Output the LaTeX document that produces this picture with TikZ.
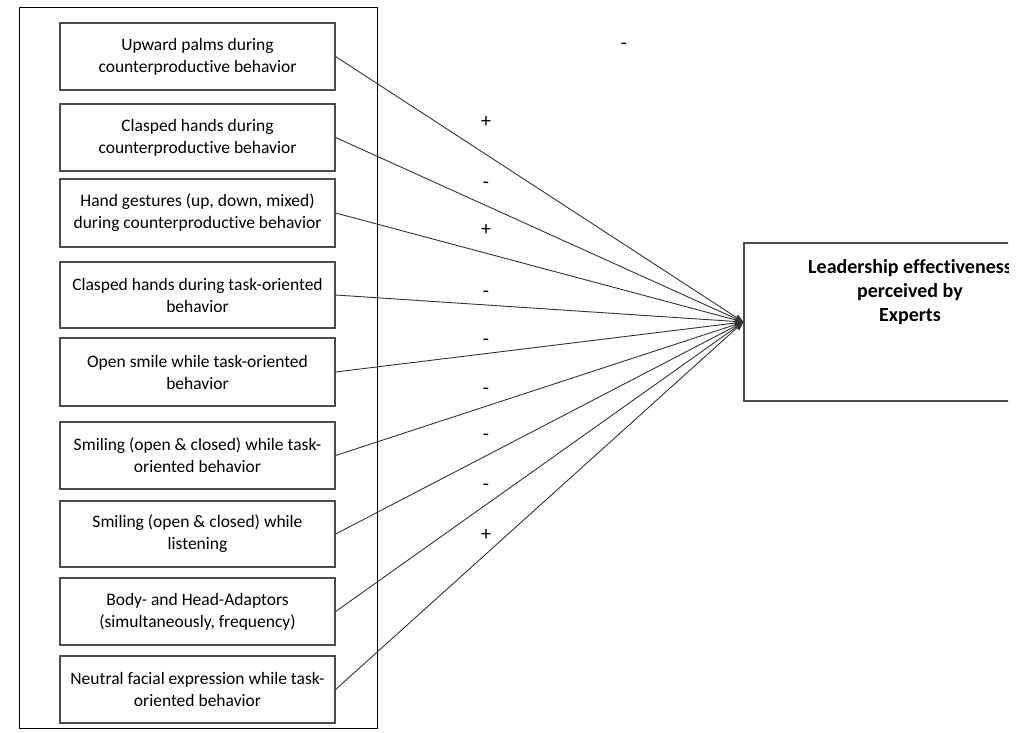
\documentclass[tikz,border=0pt]{standalone}
\usepackage{fontspec}
\setmainfont{Carlito}[Ligatures=NoCommon]
\usetikzlibrary{arrows.meta}
\begin{document}
\begin{tikzpicture}[x=1pt,y=-1pt,
  lbox/.style={draw=black!70,line width=1.2pt,minimum width=275pt,inner sep=0pt,
    align=center,font=\fontsize{17.5}{22}\selectfont},
  conn/.style={draw=black!80,line width=0.9pt,-{Stealth[length=9pt,width=7pt]}},
  sign/.style={font=\fontsize{20}{22}\selectfont,inner sep=0pt}]
\useasboundingbox (0,0) rectangle (1034,732);
\begin{scope}
\clip (0,0) rectangle (1008,732);
\node[draw=black,line width=0.9pt,minimum width=358pt,minimum height=721pt,inner sep=0pt] (outer) at (198,367.5) {};
\node[lbox,minimum height=67pt] (b1) at (197.5,56.5) {Upward palms during\\counterproductive behavior};
\node[lbox,minimum height=67pt] (b2) at (197.5,137.5) {Clasped hands during\\counterproductive behavior};
\node[lbox,minimum height=68pt] (b3) at (197.5,213) {Hand gestures (up, down, mixed)\\during counterproductive behavior};
\node[lbox,minimum height=66pt] (b4) at (197.5,295) {Clasped hands during task-oriented\\behavior};
\node[lbox,minimum height=68pt] (b5) at (197.5,372) {Open smile while task-oriented\\behavior};
\node[lbox,minimum height=67pt] (b6) at (197.5,455.5) {Smiling (open \& closed) while task-\\oriented behavior};
\node[lbox,minimum height=66pt] (b7) at (197.5,534) {Smiling (open \& closed) while\\listening};
\node[lbox,minimum height=67pt] (b8) at (197.5,611.5) {Body- and Head-Adaptors\\(simultaneously, frequency)};
\node[lbox,minimum height=67pt] (b9) at (197.5,689.5) {Neutral facial expression while task-\\oriented behavior};
\node[draw=black!70,line width=1.2pt,minimum width=332pt,minimum height=158pt,inner sep=0pt] (R) at (910,322) {};
\node[anchor=north,align=center,inner sep=0pt,font=\bfseries\fontsize{20}{24}\selectfont] (Rt) at (910,259) {Leadership effectiveness\\perceived by\\Experts};
\foreach \i in {1,...,9} {\draw[conn] (b\i.east) -- (R.west);}
\node[sign] (s0) at (624,46) {-};
\node[sign] (s1) at (486,122) {+};
\node[sign] (s2) at (486,185) {-};
\node[sign] (s3) at (486,230) {+};
\node[sign] (s4) at (486,294) {-};
\node[sign] (s5) at (486,342) {-};
\node[sign] (s6) at (486,391) {-};
\node[sign] (s7) at (486,437) {-};
\node[sign] (s8) at (486,487) {-};
\node[sign] (s9) at (486,535) {+};
\end{scope}
\end{tikzpicture}
\end{document}
